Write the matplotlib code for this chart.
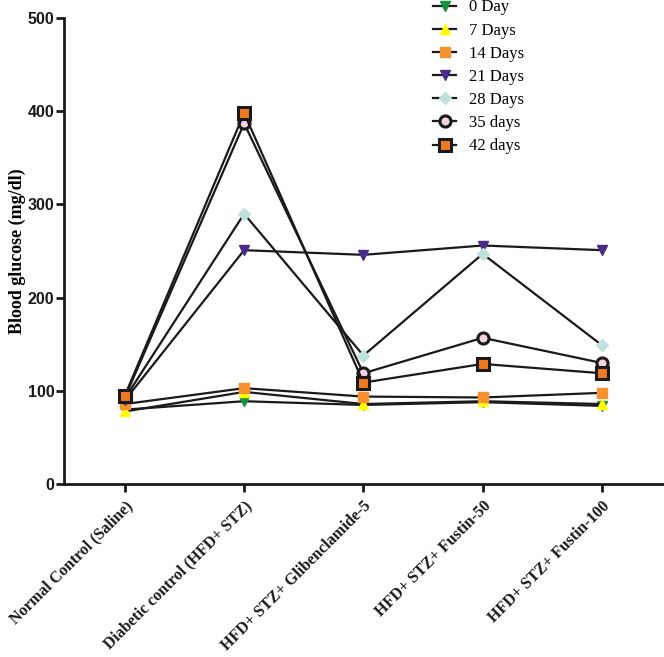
import matplotlib
matplotlib.use("Agg")
import matplotlib.pyplot as plt

categories = ["Normal Control (Saline)", "Diabetic control (HFD+ STZ)",
              "HFD+ STZ+ Glibenclamide-5", "HFD+ STZ+ Fustin-50", "HFD+ STZ+ Fustin-100"]
series_names = ["0 Day", "7 Days", "14 Days", "21 Days", "28 Days", "35 days", "42 days"]
day0 = [80, 89, 85, 88, 84]
day7 = [78, 99, 86, 89, 86]
day14 = [86, 103, 94, 93, 98]
day21 = [90, 251, 246, 256, 251]
day28 = [92, 290, 138, 247, 149]
day35 = [93, 387, 119, 157, 130]
day42 = [95, 398, 109, 129, 119]
yticks = [0, 100, 200, 300, 400, 500]

values = [day0, day7, day14, day21, day28, day35, day42]
styles = [
    dict(marker="v", mfc="#17913f", mec="#17913f", ms=7, mew=1),
    dict(marker="^", mfc="#ffff00", mec="#ffff00", ms=7, mew=1),
    dict(marker="s", mfc="#f7902e", mec="#f7902e", ms=7, mew=1),
    dict(marker="v", mfc="#4a2b86", mec="#4a2b86", ms=7, mew=1),
    dict(marker="D", mfc="#bfe3dc", mec="#bfe3dc", ms=6, mew=1),
    dict(marker="o", mfc="#f7d3e3", mec="#1a1a1a", ms=8, mew=2.2),
    dict(marker="s", mfc="#f07a20", mec="#1a1a1a", ms=8, mew=2.2),
]

fig = plt.figure(figsize=(6.64, 6.57), dpi=100)
ax = fig.add_axes([0.0964, 0.263, 0.9036, 0.7096])
x = list(range(len(categories)))
for name, vals, st in zip(series_names, values, styles):
    ax.plot(x, vals, color="#1a1a1a", lw=1.6, label=name, **st)

ax.set_xlim(-0.51, 4.52)
ax.set_ylim(0, 500)
ax.set_yticks(yticks)
ax.set_yticklabels([str(t) for t in yticks], fontfamily="Liberation Sans",
                   fontweight="bold", fontsize=11.5)
ax.set_xticks(x)
ax.set_xticklabels(categories, rotation=45, ha="right", rotation_mode="anchor",
                   fontfamily="Liberation Serif", fontweight="bold", fontsize=11.6)
ax.set_ylabel("Blood glucose (mg/dl)", fontfamily="Liberation Serif",
              fontweight="bold", fontsize=13)
ax.yaxis.set_label_coords(-0.064, 0.5)
for s in ["top", "right"]:
    ax.spines[s].set_visible(False)
for s in ["left", "bottom"]:
    ax.spines[s].set_linewidth(2)
    ax.spines[s].set_color("#1a1a1a")
ax.tick_params(axis="both", direction="out", length=6, width=2, colors="#1a1a1a")
ax.tick_params(axis="y", pad=1)
ax.tick_params(axis="x", pad=4)

leg = ax.legend(loc="upper left", bbox_to_anchor=(0.59, 1.072), frameon=False,
                prop={"family": "Liberation Serif", "size": 12},
                handlelength=1.4, labelspacing=0.43, handletextpad=0.75)

fig.savefig("out.png", dpi=100)
